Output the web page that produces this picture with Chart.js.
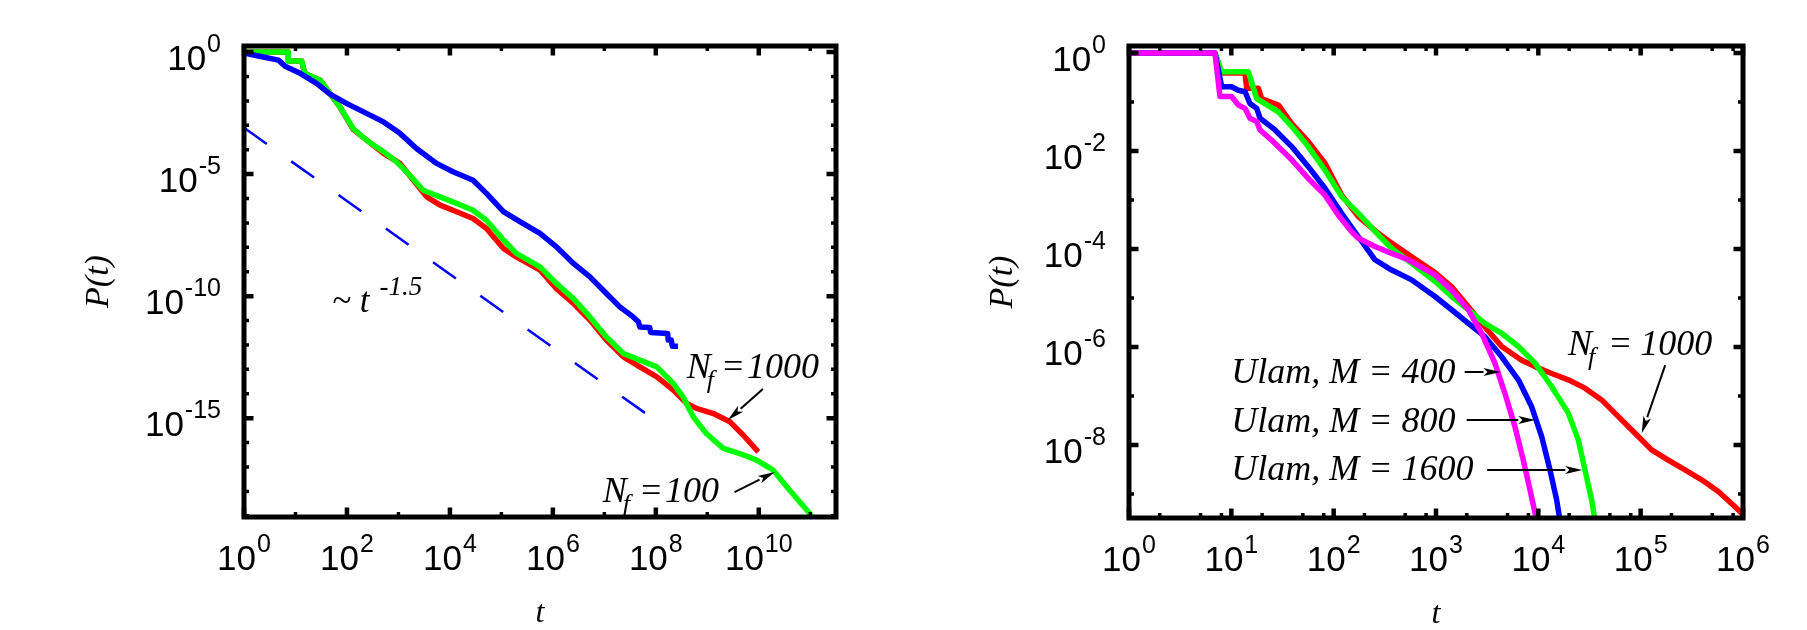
<!DOCTYPE html>
<html>
<head>
<meta charset="utf-8">
<script src="https://cdn.jsdelivr.net/npm/chart.js@4.4.0/dist/chart.umd.min.js"></script>
<style>
  html, body { margin: 0; padding: 0; background: #fff; }
  #wrap { position: relative; width: 1807px; height: 630px; }
  .panel { position: absolute; top: 0; height: 630px; }
  #left { left: 0; width: 903px; }
  #right { left: 903px; width: 904px; }
</style>
</head>
<body>
<div id="wrap">
  <div class="panel" id="left"><canvas id="c1"></canvas></div>
  <div class="panel" id="right"><canvas id="c2"></canvas></div>
</div>
<script>
// all points are [log10 t, log10 P(t)]

// left panel
const leftRed = [[0,0],[0.86,0],[0.86,-0.36],[1.12,-0.36],[1.18,-0.87],[1.48,-1.15],[1.67,-1.69],[1.86,-2.24],
  [2.12,-3.17],[2.71,-4.15],[3.03,-4.56],[3.29,-5.25],[3.55,-5.93],[3.81,-6.27],[4.13,-6.54],[4.45,-6.82],
  [4.71,-7.23],[5.04,-8.05],[5.29,-8.39],[5.75,-8.93],[6.07,-9.69],[6.40,-10.30],[6.72,-10.98],[7.04,-11.80],
  [7.37,-12.49],[7.69,-12.90],[8.02,-13.31],[8.34,-13.85],[8.60,-14.40],[8.79,-14.60],[9.12,-14.81],
  [9.44,-15.15],[9.70,-15.70],[9.99,-16.38]];
const leftGreen = [[0,0],[0.86,0],[0.86,-0.36],[1.12,-0.36],[1.18,-0.87],[1.48,-1.15],[1.67,-1.69],[1.86,-2.24],
  [2.12,-3.13],[2.38,-3.61],[2.71,-4.08],[2.96,-4.49],[3.22,-5.04],[3.48,-5.66],[3.81,-5.93],[4.13,-6.20],
  [4.45,-6.48],[4.71,-6.89],[5.04,-7.70],[5.29,-8.25],[5.75,-8.80],[6.07,-9.48],[6.40,-10.10],[6.72,-10.85],
  [7.04,-11.67],[7.37,-12.35],[7.69,-12.62],[8.02,-12.90],[8.34,-13.58],[8.53,-14.13],[8.73,-14.95],
  [8.98,-15.63],[9.31,-16.24],[9.63,-16.45],[9.96,-16.72],[10.28,-17.13],[10.60,-17.95],[10.99,-18.91],
  [11.09,-19.25]];
const leftBlue = [[0,-0.03],[0.30,-0.17],[0.67,-0.33],[0.80,-0.58],[1.09,-0.87],[1.41,-1.28],[1.67,-1.72],
  [1.99,-2.10],[2.38,-2.51],[2.71,-2.86],[3.03,-3.33],[3.35,-3.95],[3.74,-4.56],[4.06,-4.90],[4.45,-5.25],
  [4.71,-5.79],[5.04,-6.54],[5.36,-6.95],[5.75,-7.43],[6.07,-7.98],[6.40,-8.66],[6.72,-9.21],[7.04,-9.89],
  [7.30,-10.44],[7.56,-10.85],[7.66,-11.05],[7.69,-11.26],[7.88,-11.28],[7.90,-11.49],[8.23,-11.53],
  [8.24,-11.80],[8.30,-11.80],[8.32,-12.05],[8.43,-12.05]];
const leftPowerLaw = [[0,-3.1],[8.1,-15.25]];

// right panel
const rightRed = [[0,0],[0.84,0],[0.906,-0.41],[1.134,-0.41],[1.150,-0.72],[1.264,-0.72],[1.296,-0.93],
  [1.459,-1.06],[1.590,-1.44],[1.752,-1.81],[1.915,-2.25],[2.078,-2.90],[2.241,-3.34],[2.436,-3.68],
  [2.567,-3.88],[2.762,-4.16],[2.990,-4.48],[3.153,-4.77],[3.316,-5.18],[3.478,-5.59],[3.642,-5.99],
  [3.837,-6.27],[3.968,-6.40],[4.131,-6.54],[4.293,-6.67],[4.456,-6.84],[4.619,-7.08],[4.782,-7.42],
  [4.945,-7.76],[5.107,-8.10],[5.270,-8.31],[5.433,-8.51],[5.596,-8.71],[5.759,-8.95],[5.922,-9.26],
  [6.0,-9.42]];
const rightGreen = [[0,0],[0.84,0],[0.906,-0.38],[1.166,-0.38],[1.248,-0.93],[1.459,-1.20],[1.590,-1.50],
  [1.752,-1.91],[1.915,-2.39],[2.078,-2.93],[2.241,-3.27],[2.436,-3.71],[2.567,-3.99],[2.762,-4.29],
  [2.990,-4.66],[3.153,-4.97],[3.316,-5.24],[3.478,-5.52],[3.642,-5.72],[3.805,-5.99],[3.968,-6.33],
  [4.131,-6.81],[4.293,-7.35],[4.391,-7.90],[4.456,-8.51],[4.521,-9.12],[4.554,-9.55]];
const rightBlue = [[0,0],[0.84,0],[0.906,-0.69],[1.003,-0.69],[1.068,-0.76],[1.134,-0.79],[1.182,-1.03],
  [1.248,-1.13],[1.280,-1.33],[1.427,-1.57],[1.590,-1.91],[1.752,-2.32],[1.915,-2.76],[2.078,-3.27],
  [2.241,-3.75],[2.404,-4.22],[2.567,-4.43],[2.762,-4.63],[2.990,-4.97],[3.153,-5.24],[3.316,-5.52],
  [3.478,-5.79],[3.642,-6.20],[3.805,-6.67],[3.935,-7.22],[4.033,-7.83],[4.114,-8.51],[4.179,-9.12],
  [4.212,-9.55]];
const rightMagenta = [[0,0],[0.84,0],[0.889,-0.89],[1.003,-0.89],[1.068,-1.06],[1.134,-1.13],[1.182,-1.33],
  [1.248,-1.40],[1.280,-1.57],[1.394,-1.78],[1.590,-2.18],[1.752,-2.56],[1.915,-2.90],[2.046,-3.31],
  [2.176,-3.65],[2.241,-3.78],[2.404,-3.95],[2.567,-4.09],[2.730,-4.22],[2.990,-4.53],[3.153,-4.84],
  [3.316,-5.24],[3.446,-5.72],[3.576,-6.33],[3.674,-6.95],[3.772,-7.63],[3.853,-8.31],[3.919,-8.92],
  [3.968,-9.39],[3.984,-9.55]];

// axis ticks (exponents)
const leftXMajor = [0, 2, 4, 6, 8, 10];
const leftXMinor = [1, 3, 5, 7, 9, 11];
const leftYMajor = [0, -5, -10, -15];
const leftYMinor = [-1, -2, -3, -4, -6, -7, -8, -9, -11, -12, -13, -14, -16, -17, -18, -19];
const rightXMajor = [0, 1, 2, 3, 4, 5, 6];
const rightXMinor = [0, 1, 2, 3, 4, 5].flatMap(d => [2, 5, 8].map(m => d + Math.log10(m)));
const rightYMajor = [0, -2, -4, -6, -8];
const rightYMinor = [-1, -3, -5, -7, -9];

const SANS = '"Liberation Sans", Arial, Helvetica, sans-serif';
const SERIF = '"Liberation Serif", "Times New Roman", Times, serif';

function toXY(points) {
  return points.map(p => ({ x: Math.pow(10, p[0]), y: Math.pow(10, p[1]) }));
}

function powLabel(ctx, exp, x, y, align) {
  ctx.font = '35px ' + SANS;
  const wb = ctx.measureText('10').width;
  ctx.font = '25px ' + SANS;
  const ws = ctx.measureText(String(exp)).width;
  const x0 = align === 'right' ? x - wb - ws - 1 : x - (wb + ws + 1) / 2;
  ctx.font = '35px ' + SANS;
  ctx.fillText('10', x0, y);
  ctx.font = '25px ' + SANS;
  ctx.fillText(String(exp), x0 + wb + 1, y - 18);
}

function arrow(ctx, x1, y1, x2, y2) {
  const a = Math.atan2(y2 - y1, x2 - x1);
  const len = 17, half = 4;
  const bx = x2 - len * Math.cos(a), by = y2 - len * Math.sin(a);
  ctx.beginPath();
  ctx.moveTo(x1, y1);
  ctx.lineTo(bx, by);
  ctx.stroke();
  ctx.beginPath();
  ctx.moveTo(x2, y2);
  ctx.lineTo(bx - half * Math.sin(a), by + half * Math.cos(a));
  ctx.lineTo(bx + 4 * Math.cos(a), by + 4 * Math.sin(a));
  ctx.lineTo(bx + half * Math.sin(a), by - half * Math.cos(a));
  ctx.closePath();
  ctx.fill();
}

function drawNf(ctx, x, y, eqGap, num, numGap) {
  ctx.font = 'italic 36px ' + SERIF;
  ctx.fillText('N', x, y);
  const wN = ctx.measureText('N').width;
  ctx.font = 'italic 26px ' + SERIF;
  ctx.fillText('f', x + wN - 4, y + 10);
  ctx.font = 'italic 36px ' + SERIF;
  const xe = x + wN + eqGap;
  ctx.fillText('=', xe, y);
  ctx.fillText(num, xe + ctx.measureText('=').width + numGap, y);
}

function framePlugin(cfg) {
  return {
    id: 'gnuframe',
    afterDatasetsDraw(chart) {
      const ctx = chart.ctx;
      const a = chart.chartArea;
      const xs = chart.scales.x, ys = chart.scales.y;
      const px = e => xs.getPixelForValue(Math.pow(10, e));
      const py = e => ys.getPixelForValue(Math.pow(10, e));
      ctx.save();
      ctx.strokeStyle = '#000';
      ctx.fillStyle = '#000';
      ctx.lineCap = 'butt';

      // tick marks on all four sides
      const tick = (exps, len, w) => {
        ctx.lineWidth = w;
        ctx.beginPath();
        exps.x.forEach(e => {
          const x = px(e);
          ctx.moveTo(x, a.bottom); ctx.lineTo(x, a.bottom - len);
          ctx.moveTo(x, a.top); ctx.lineTo(x, a.top + len);
        });
        exps.y.forEach(e => {
          const y = py(e);
          ctx.moveTo(a.left, y); ctx.lineTo(a.left + len, y);
          ctx.moveTo(a.right, y); ctx.lineTo(a.right - len, y);
        });
        ctx.stroke();
      };
      tick({ x: cfg.xMajor, y: cfg.yMajor }, 9.5, 4.5);
      tick({ x: cfg.xMinor, y: cfg.yMinor }, 5, 3.5);

      // frame
      ctx.lineWidth = 5;
      ctx.strokeRect(a.left, a.top, a.right - a.left, a.bottom - a.top);

      // tick labels
      ctx.textAlign = 'left';
      ctx.textBaseline = 'alphabetic';
      cfg.yMajor.forEach(e => powLabel(ctx, e, a.left - 23, py(e) + 18, 'right'));
      cfg.xMajor.forEach(e => powLabel(ctx, e, px(e), a.bottom + 53, 'center'));

      // axis titles
      ctx.font = 'italic 32px ' + SERIF;
      ctx.textAlign = 'center';
      ctx.fillText('t', (a.left + a.right) / 2, a.bottom + 105);
      ctx.save();
      ctx.translate(a.left - cfg.yTitleOffset, (a.top + a.bottom) / 2);
      ctx.rotate(-Math.PI / 2);
      ctx.font = 'italic 34px ' + SERIF;
      ctx.fillText('P(t)', 0, 0);
      ctx.restore();
      ctx.textAlign = 'left';

      // annotations
      ctx.lineWidth = 2;
      cfg.notes(ctx, px, py);
      ctx.restore();
    }
  };
}

function makeChart(id, cfg) {
  return new Chart(document.getElementById(id), {
    type: 'line',
    data: {
      datasets: cfg.series.map(s => ({
        data: toXY(s.points),
        borderColor: s.color,
        borderWidth: s.width || 5.5,
        borderDash: s.dash || [],
        borderCapStyle: 'butt',
        borderJoinStyle: 'round',
        order: s.order,
        pointRadius: 0,
        tension: 0,
        fill: false
      }))
    },
    options: {
      responsive: true,
      maintainAspectRatio: false,
      animation: false,
      events: [],
      layout: { padding: cfg.padding },
      scales: {
        x: { type: 'logarithmic', display: false, min: Math.pow(10, cfg.xRange[0]), max: Math.pow(10, cfg.xRange[1]) },
        y: { type: 'logarithmic', display: false, min: Math.pow(10, cfg.yRange[0]), max: Math.pow(10, cfg.yRange[1]) }
      },
      plugins: { legend: { display: false }, tooltip: { enabled: false } }
    },
    plugins: [framePlugin(cfg)]
  });
}

makeChart('c1', {
  padding: { left: 244, right: 67, top: 46, bottom: 113 },
  xRange: [0, 11.5],
  yRange: [-19.05, 0.25],
  xMajor: leftXMajor, xMinor: leftXMinor, yMajor: leftYMajor, yMinor: leftYMinor,
  yTitleOffset: 136,
  series: [
    { points: leftRed, color: '#ff0000', order: 4 },
    { points: leftGreen, color: '#00ff00', order: 3 },
    { points: leftBlue, color: '#0000ff', order: 2 },
    { points: leftPowerLaw, color: '#0000ff', width: 2.5, dash: [28, 30], order: 1 }
  ],
  notes(ctx, px, py) {
    ctx.font = 'italic 35px ' + SERIF;
    const x0 = px(1.71), y0 = py(-10.65);
    ctx.fillText('~ t', x0, y0);
    const w = ctx.measureText('~ t').width;
    ctx.font = 'italic 27px ' + SERIF;
    ctx.fillText('-1.5', x0 + w + 10, y0 - 17);

    drawNf(ctx, px(8.60), py(-13.36), 10, '1000', 2);
    arrow(ctx, px(10.08), py(-13.81), px(9.40), py(-15.08));
    drawNf(ctx, px(6.97), py(-18.44), 12, '100', 2);
    arrow(ctx, px(9.53), py(-18.03), px(10.31), py(-17.21));
  }
});

makeChart('c2', {
  padding: { left: 226, right: 64, top: 46, bottom: 112 },
  xRange: [0, 6],
  yRange: [-9.49, 0.143],
  xMajor: rightXMajor, xMinor: rightXMinor, yMajor: rightYMajor, yMinor: rightYMinor,
  yTitleOffset: 117,
  series: [
    { points: rightRed, color: '#ff0000', order: 4 },
    { points: rightGreen, color: '#00ff00', order: 3 },
    { points: rightBlue, color: '#0000ff', order: 2 },
    { points: rightMagenta, color: '#ff00ff', order: 1 }
  ],
  notes(ctx, px, py) {
    ctx.font = 'italic 36px ' + SERIF;
    const xt = px(1.0);
    ctx.fillText('Ulam, M = 400', xt, py(-6.73));
    ctx.fillText('Ulam, M = 800', xt, py(-7.73));
    ctx.fillText('Ulam, M = 1600', xt, py(-8.71));
    arrow(ctx, px(3.28), py(-6.51), px(3.63), py(-6.51));
    arrow(ctx, px(3.30), py(-7.49), px(3.97), py(-7.49));
    arrow(ctx, px(3.50), py(-8.51), px(4.43), py(-8.51));
    drawNf(ctx, px(4.29), py(-6.16), 16, '1000', 8);
    arrow(ctx, px(5.24), py(-6.37), px(5.01), py(-7.76));
  }
});
</script>
</body>
</html>
